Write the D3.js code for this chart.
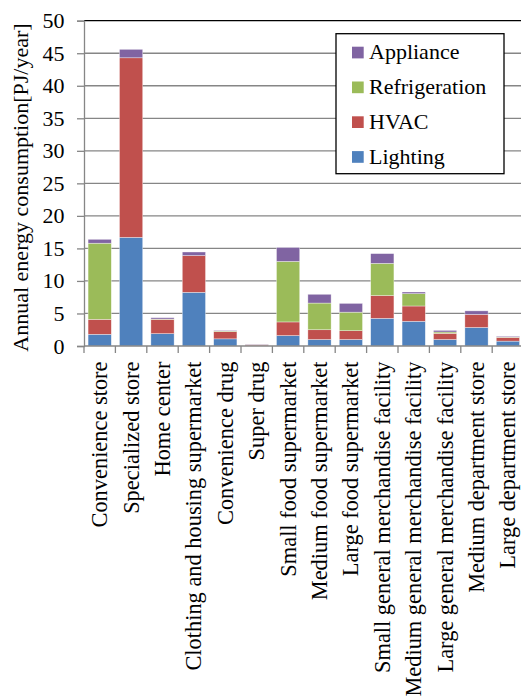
<!DOCTYPE html>
<html>
<head>
<meta charset="utf-8">
<script src="https://cdn.jsdelivr.net/npm/d3@7"></script>
</head>
<body style="margin:0">
<svg id="chart" width="521" height="696"></svg>
<script>
// Store types on the x axis
const categories = [
  "Convenience store", "Specialized store", "Home center",
  "Clothing and housing supermarket", "Convenience drug", "Super drug",
  "Small food supermarket", "Medium food supermarket", "Large food supermarket",
  "Small general merchandise facility", "Medium general merchandise facility",
  "Large general merchandise facility", "Medium department store", "Large department store"
];

// Annual energy consumption per end use [PJ/year]
const lighting      = [1.8, 16.7, 1.9, 8.25, 1.1, 0.05, 1.6, 1.0, 1.0, 4.25, 3.8, 1.0, 2.85, 0.75];
const hvac          = [2.3, 27.6, 2.2, 5.65, 1.1, 0.15, 2.1, 1.5, 1.35, 3.5, 2.35, 0.95, 2.0, 0.58];
const refrigeration = [11.7, 0, 0.05, 0, 0.1, 0.02, 9.3, 4.1, 2.85, 4.95, 1.9, 0.2, 0, 0.05];
const appliance     = [0.6, 1.3, 0.2, 0.55, 0.1, 0.05, 2.15, 1.35, 1.35, 1.5, 0.25, 0.25, 0.55, 0.12];

const seriesNames = ["Lighting", "HVAC", "Refrigeration", "Appliance"];
const seriesColors = ["#4F81BD", "#C0504D", "#9BBB59", "#8064A2"];
const yTicks = [0, 5, 10, 15, 20, 25, 30, 35, 40, 45, 50];

const FONT = "'Liberation Serif'";

const table = categories.map((c, i) => ({
  category: c,
  Lighting: lighting[i],
  HVAC: hvac[i],
  Refrigeration: refrigeration[i],
  Appliance: appliance[i]
}));

const svg = d3.select("#chart");
const margin = { left: 84, top: 20.7 };
const plotW = 439.6, plotH = 325.3;

const x = d3.scaleBand().domain(categories).range([0, plotW]).paddingInner(0.26).paddingOuter(0.13);
const y = d3.scaleLinear().domain([0, 50]).range([plotH, 0]);
const color = d3.scaleOrdinal().domain(seriesNames).range(seriesColors);

const g = svg.append("g").attr("transform", `translate(${margin.left},${margin.top})`);

// Horizontal gridlines
g.append("g").selectAll("line")
  .data(yTicks.filter(t => t > 0 && t < 50))
  .join("line")
  .attr("x1", 0).attr("x2", plotW)
  .attr("y1", d => y(d)).attr("y2", d => y(d))
  .attr("stroke", "#868686").attr("stroke-width", 1.3);

// Top border line
g.append("line")
  .attr("x1", 0).attr("x2", plotW)
  .attr("y1", y(50)).attr("y2", y(50))
  .attr("stroke", "#000").attr("stroke-width", 1.3);

// Stacked bars
const stacked = d3.stack().keys(seriesNames)(table);
g.append("g").selectAll("g")
  .data(stacked)
  .join("g")
  .attr("fill", d => color(d.key))
  .selectAll("rect")
  .data(d => d)
  .join("rect")
  .attr("x", d => x(d.data.category))
  .attr("width", x.bandwidth())
  .attr("y", d => y(d[1]))
  .attr("height", d => Math.max(0, y(d[0]) - y(d[1])))
  .attr("stroke", "rgba(255,255,255,0.6)")
  .attr("stroke-width", 0.6);

// Y axis
const yAxis = g.append("g")
  .call(d3.axisLeft(y).tickValues(yTicks).tickSize(7).tickPadding(12.5).tickFormat(d3.format("d")));
yAxis.select(".domain").attr("stroke", "#868686").attr("stroke-width", 1.3);
yAxis.selectAll(".tick line").attr("stroke", "#868686").attr("stroke-width", 1.3);
yAxis.selectAll(".tick text")
  .style("font-family", FONT).style("font-size", "22px").style("fill", "#000");

// X axis with ticks at category boundaries
const xAxisG = g.append("g").attr("transform", `translate(0,${plotH})`);
xAxisG.append("line")
  .attr("x1", 0).attr("x2", plotW)
  .attr("stroke", "#868686").attr("stroke-width", 1.3);
const step = x.step();
const boundaries = d3.range(categories.length + 1).map(i => i * step);
xAxisG.selectAll("line.tk")
  .data(boundaries)
  .join("line")
  .attr("class", "tk")
  .attr("x1", d => d).attr("x2", d => d)
  .attr("y1", 0).attr("y2", 7)
  .attr("stroke", "#868686").attr("stroke-width", 1.3);
xAxisG.selectAll("text")
  .data(categories)
  .join("text")
  .attr("transform", d => `translate(${x(d) + x.bandwidth() / 2 + 7.5},15.5) rotate(-90)`)
  .attr("text-anchor", "end")
  .style("font-family", FONT).style("font-size", "22.4px")
  .style("fill", "#000")
  .text(d => d);

// Y axis title
svg.append("text")
  .attr("transform", `translate(28,187.5) rotate(-90)`)
  .attr("text-anchor", "middle")
  .style("font-family", FONT).style("font-size", "22px")
  .style("fill", "#000")
  .text("Annual energy consumption[PJ/year]");

// Legend
const legend = svg.append("g").attr("transform", "translate(336,33.7)");
legend.append("rect")
  .attr("width", 168).attr("height", 140)
  .attr("fill", "#fff").attr("stroke", "#000").attr("stroke-width", 1.3);
const legendOrder = ["Appliance", "Refrigeration", "HVAC", "Lighting"];
const items = legend.selectAll("g.item")
  .data(legendOrder)
  .join("g")
  .attr("class", "item")
  .attr("transform", (d, i) => `translate(16,${18.8 + i * 34.8})`);
items.append("rect")
  .attr("x", 0).attr("y", -5.8).attr("width", 11.7).attr("height", 11.7)
  .attr("fill", d => color(d));
items.append("text")
  .attr("x", 17).attr("y", 6.8)
  .style("font-family", FONT).style("font-size", "22px")
  .style("fill", "#000")
  .text(d => d);
</script>
</body>
</html>
